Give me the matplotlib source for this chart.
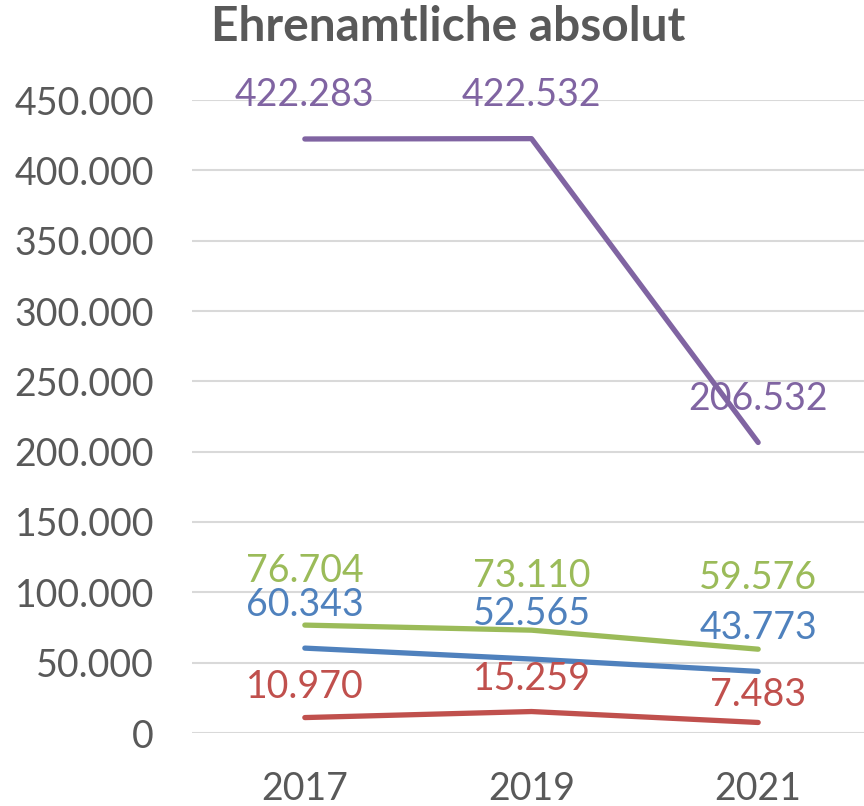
import matplotlib.pyplot as plt
from matplotlib.ticker import FuncFormatter

plt.rcParams['font.family'] = ['Lato', 'DejaVu Sans']

years = ['2017', '2019', '2021']
purple_vals = [422283, 422532, 206532]
green_vals = [76704, 73110, 59576]
blue_vals = [60343, 52565, 43773]
red_vals = [10970, 15259, 7483]

series = [
    (purple_vals, '#8064A2', [44, 44, 43]),
    (green_vals, '#9BBB59', [54, 54, 71]),
    (blue_vals, '#4F81BD', [43, 45, 43]),
    (red_vals, '#C0504D', [31, 33, 27]),
]


def de_fmt(v):
    return f'{int(round(v)):,}'.replace(',', '.')


W, H = 864, 806
fig = plt.figure(figsize=(W / 100, H / 100), dpi=100)
ax = fig.add_axes([191.5 / W, (H - 733) / H, 680 / W, 633 / H])

x = list(range(len(years)))
for vals, col, offs in series:
    ax.plot(x, vals, color=col, lw=3.8, solid_capstyle='round', zorder=3)
    for xi, v, o in zip(x, vals, offs):
        ax.annotate(de_fmt(v), (xi, v), xytext=(0, o), textcoords='offset pixels',
                    ha='center', va='center', color=col, fontsize=27, zorder=4)

ax.set_xlim(-0.5, 2.5)
ax.set_ylim(0, 450000)
ax.set_yticks(range(0, 450001, 50000))
ax.yaxis.set_major_formatter(FuncFormatter(lambda v, p: de_fmt(v)))
ax.set_xticks(x)
ax.set_xticklabels(years)
ax.tick_params(length=0, labelsize=27, labelcolor='#595959')
ax.tick_params(axis='y', pad=27)
ax.tick_params(axis='x', pad=27)
ax.grid(axis='y', color='#D9D9D9', lw=1.5)
ax.set_axisbelow(True)
for s in ax.spines.values():
    s.set_visible(False)

fig.text(448 / W, 1 - 27 / H, 'Ehrenamtliche absolut', ha='center', va='center',
         fontsize=34.5, fontweight='bold', color='#595959')

fig.savefig('out.png', dpi=100)
